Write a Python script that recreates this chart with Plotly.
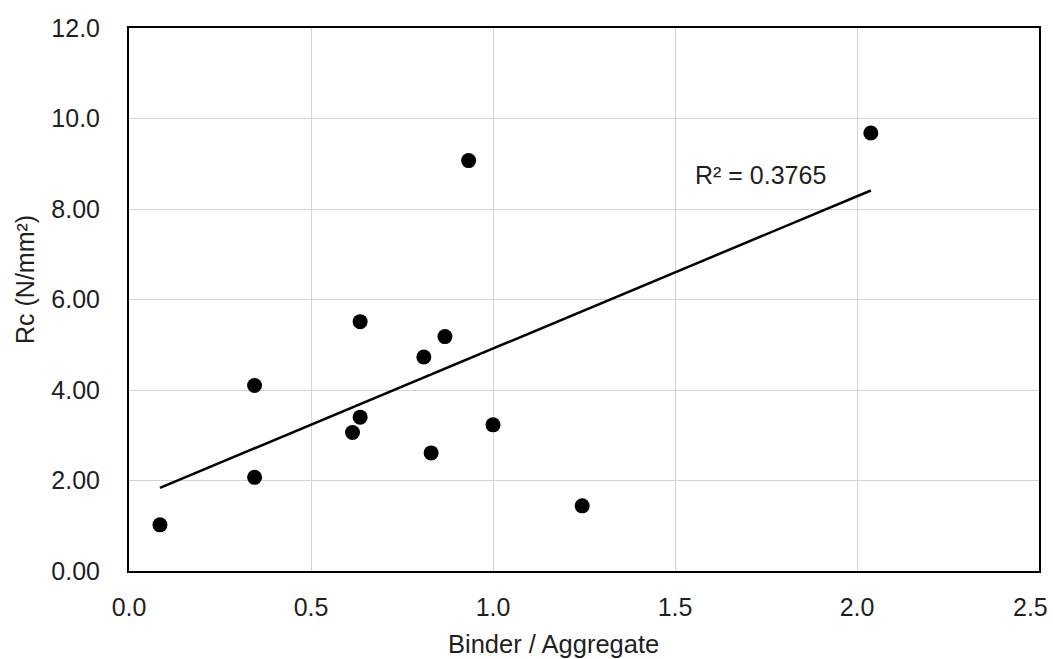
import numpy as np
import plotly.graph_objects as go

# Binder/aggregate ratio vs. compressive strength Rc (N/mm²)
binder_ratio = [0.085, 0.345, 0.345, 0.614, 0.635, 0.635, 0.81, 0.868, 0.83, 1.0, 0.933, 1.245, 2.038]
rc_strength = [1.02, 2.07, 4.10, 3.06, 3.40, 5.51, 4.73, 5.18, 2.61, 3.23, 9.07, 1.44, 9.68]

x_ticks = [0.0, 0.5, 1.0, 1.5, 2.0]
x_ticktext = ["0.0", "0.5", "1.0", "1.5", "2.0"]
x_last_tick = "2.5"  # drawn as an annotation so it stays inside the page
y_ticks = [0, 2, 4, 6, 8, 10, 12]
y_ticktext = ["0.00", "2.00", "4.00", "6.00", "8.00", "10.0", "12.0"]
r2_label = "R² = 0.3765"

# Least-squares linear trendline over the data range
slope, intercept = np.polyfit(binder_ratio, rc_strength, 1)
trend_x = np.array([min(binder_ratio), max(binder_ratio)])
trend_y = slope * trend_x + intercept

FONT = "Liberation Sans, Arial, sans-serif"
TXT = "#1f1f1f"

# plot-area geometry in pixels
L, R, T, B = 129, 1039, 28, 571
PW, PH = R - L, B - T

fig = go.Figure()
fig.add_trace(go.Scatter(
    x=trend_x, y=trend_y, mode="lines",
    line=dict(color="black", width=2.5),
    hoverinfo="skip", showlegend=False,
))
fig.add_trace(go.Scatter(
    x=binder_ratio, y=rc_strength, mode="markers",
    marker=dict(color="black", size=15),
    showlegend=False,
))

fig.update_layout(
    width=1053, height=659,
    margin=dict(l=L, r=1053 - R, t=T, b=659 - B),
    paper_bgcolor="white", plot_bgcolor="white",
    font=dict(family=FONT, size=25, color=TXT),
    xaxis=dict(
        range=[0, 2.5], tickvals=x_ticks, ticktext=x_ticktext,
        showgrid=True, gridcolor="#d4d4d4", gridwidth=1,
        zeroline=False, showline=True, linecolor="black", linewidth=2,
        mirror=True, ticks="", ticklabelstandoff=13,
        tickfont=dict(size=25, color=TXT),
    ),
    yaxis=dict(
        range=[0, 12], tickvals=y_ticks, ticktext=y_ticktext,
        showgrid=True, gridcolor="#d4d4d4", gridwidth=1,
        zeroline=False, showline=True, linecolor="black", linewidth=2,
        mirror=True, ticks="", ticklabelstandoff=22,
        tickfont=dict(size=25, color=TXT),
    ),
    annotations=[
        dict(text=x_last_tick, xref="paper", yref="paper",
             x=(1050 - L) / PW, y=-(607 - B) / PH,
             xanchor="right", yanchor="middle", showarrow=False,
             font=dict(size=25, color=TXT)),
        dict(text="Binder / Aggregate", xref="paper", yref="paper",
             x=(553 - L) / PW, y=-(644 - B) / PH,
             xanchor="center", yanchor="middle", showarrow=False,
             font=dict(size=25.5, color=TXT)),
        dict(text="Rc (N/mm²)", xref="paper", yref="paper",
             x=-(L - 25) / PW, y=(B - 280) / PH, textangle=-90,
             xanchor="center", yanchor="middle", showarrow=False,
             font=dict(size=25, color=TXT)),
        dict(text=r2_label, xref="x", yref="y",
             x=(760 - 128.7) / 364, y=(571 - 175) / 45.25,
             xanchor="center", yanchor="middle", showarrow=False,
             font=dict(size=25, color=TXT)),
    ],
)

fig.write_html("out.html")
